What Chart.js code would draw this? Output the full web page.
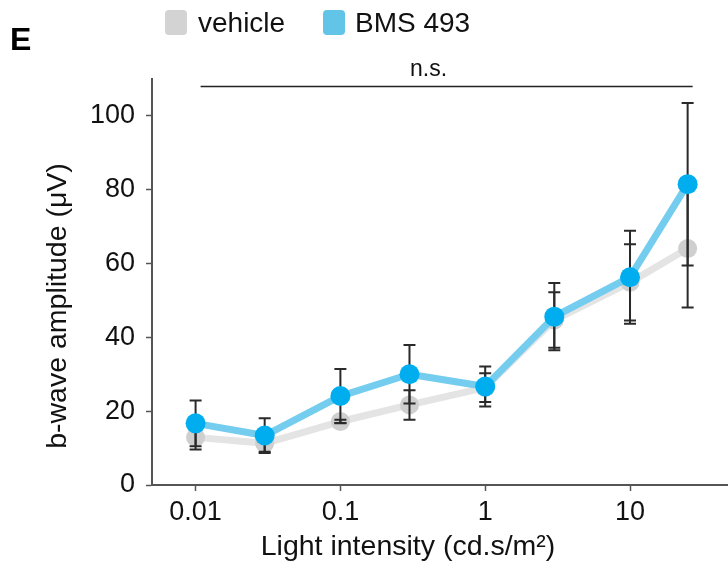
<!DOCTYPE html>
<html><head><meta charset="utf-8">
<script src="https://cdn.jsdelivr.net/npm/chart.js@4/dist/chart.umd.min.js"></script>
<style>html,body{margin:0;padding:0;background:#fff;overflow:hidden}#wrap{position:relative;width:728px;height:565px}</style>
</head><body><div id="wrap"><canvas id="c" width="728" height="565"></canvas></div>
<script>
const lightIntensity = [0.01, 0.03, 0.1, 0.3, 1, 3, 10, 25];
const vehicleMean = [12.9, 11.3, 17.2, 21.7, 26.4, 44.7, 54.9, 64.1];
const vehicleErr  = [3.3, 2.3, 0.5, 4.0, 3.9, 7.5, 10.3, 16.0];
const bmsMean = [16.7, 13.4, 24.1, 30.0, 26.7, 45.6, 56.3, 81.5];
const bmsErr  = [6.2, 4.7, 7.3, 7.9, 5.4, 9.1, 12.6, 22.0];
const xTicks = [0.01, 0.1, 1, 10];
const yTicks = [0, 20, 40, 60, 80, 100];
const seriesNames = ['vehicle', 'BMS 493'];
const panelLabel = 'E';
const sigLabel = 'n.s.';
const xTitle = 'Light intensity (cd.s/m\u00B2)';
const yTitle = 'b-wave amplitude (\u03BCV)';

const FONT = "'Liberation Sans', Arial, sans-serif";
Chart.defaults.font.family = FONT;
Chart.defaults.color = '#111';

const COL = {
  vehLine: '#e4e4e4', vehPt: '#cfcfcf', vehKey: '#d3d3d3',
  bmsLine: '#74cdee', bmsPt: '#00aeef', bmsKey: '#62c4e6',
  axis: '#555', err: '#2a2a2a'
};

function toPts(ys) { return ys.map((y, i) => ({ x: lightIntensity[i], y })); }

function drawErr(chart, dsIndex, errs) {
  const meta = chart.getDatasetMeta(dsIndex);
  const ys = chart.scales.y, ctx = chart.ctx;
  const data = chart.data.datasets[dsIndex].data;
  ctx.save();
  ctx.strokeStyle = COL.err; ctx.lineWidth = 2;
  meta.data.forEach((pt, i) => {
    const v = data[i].y;
    const yt = ys.getPixelForValue(v + errs[i]);
    const yb = ys.getPixelForValue(v - errs[i]);
    ctx.beginPath();
    ctx.moveTo(pt.x, yt); ctx.lineTo(pt.x, yb);
    ctx.moveTo(pt.x - 6, yt); ctx.lineTo(pt.x + 6, yt);
    ctx.moveTo(pt.x - 6, yb); ctx.lineTo(pt.x + 6, yb);
    ctx.stroke();
  });
  ctx.restore();
}

const decor = {
  id: 'decor',
  afterDatasetDraw(chart, args) {
    if (args.index === 1) { drawErr(chart, 1, vehicleErr); drawErr(chart, 0, bmsErr); }
  },
  afterDraw(chart) {
    const ctx = chart.ctx, xs = chart.scales.x, ys = chart.scales.y;
    ctx.save();
    // panel label
    ctx.fillStyle = '#000';
    ctx.font = 'bold 32px ' + FONT;
    ctx.textAlign = 'left'; ctx.textBaseline = 'alphabetic';
    ctx.fillText(panelLabel, 10, 50);
    // legend
    const keys = [[COL.vehKey, 165, 198], [COL.bmsKey, 323, 355]];
    ctx.font = '28px ' + FONT;
    keys.forEach((k, i) => {
      ctx.fillStyle = k[0];
      ctx.beginPath(); ctx.roundRect(k[1], 10, 22, 25, 4); ctx.fill();
      ctx.fillStyle = '#111';
      ctx.fillText(seriesNames[i], k[2], 32);
    });
    // significance bracket
    const x0 = xs.getPixelForValue(lightIntensity[0]) + 5;
    const x1 = xs.getPixelForValue(lightIntensity[lightIntensity.length - 1]) + 5;
    const yb = ys.getPixelForValue(108);
    ctx.strokeStyle = '#222'; ctx.lineWidth = 1.5;
    ctx.beginPath(); ctx.moveTo(x0, yb); ctx.lineTo(x1, yb); ctx.stroke();
    ctx.font = '23px ' + FONT; ctx.textAlign = 'center';
    ctx.fillText(sigLabel, (x0 + x1) / 2 - 18, yb - 10);
    // axis titles
    ctx.font = '28.5px ' + FONT;
    ctx.fillText(xTitle, 408, 555);
    ctx.translate(58, 306); ctx.rotate(-Math.PI / 2);
    ctx.textBaseline = 'middle';
    ctx.fillText(yTitle, 0, 0);
    ctx.restore();
  }
};

new Chart(document.getElementById('c'), {
  type: 'line',
  data: {
    datasets: [
      { label: seriesNames[1], data: toPts(bmsMean), borderColor: COL.bmsLine, borderWidth: 7,
        pointBackgroundColor: COL.bmsPt, pointBorderWidth: 0, pointRadius: 10, pointHoverRadius: 10,
        borderJoinStyle: 'round', borderCapStyle: 'round', tension: 0 },
      { label: seriesNames[0], data: toPts(vehicleMean), borderColor: COL.vehLine, borderWidth: 7,
        pointBackgroundColor: COL.vehPt, pointBorderWidth: 0, pointRadius: 9.5, pointHoverRadius: 9.5,
        borderJoinStyle: 'round', borderCapStyle: 'round', tension: 0 }
    ]
  },
  options: {
    responsive: false, animation: false,
    layout: { autoPadding: false, padding: { top: 79, left: 0, right: 0, bottom: 0 } },
    plugins: { legend: { display: false }, tooltip: { enabled: false } },
    scales: {
      x: {
        type: 'logarithmic', min: 0.005, max: 47.5,
        afterBuildTicks: s => { s.ticks = xTicks.map(v => ({ value: v })); },
        afterFit: s => { s.height = 80; s.paddingLeft = 0; s.paddingRight = 0; },
        ticks: { callback: v => String(v), autoSkip: false, maxRotation: 0, padding: 5,
                 color: '#111', font: { size: 27 } },
        grid: { display: true, drawOnChartArea: false, drawTicks: true, tickLength: 6,
                tickColor: COL.axis, tickWidth: 1.5 },
        border: { display: true, color: COL.axis, width: 2 }
      },
      y: {
        type: 'linear', min: 0, max: 110,
        afterBuildTicks: s => { s.ticks = yTicks.map(v => ({ value: v })); },
        afterFit: s => { s.width = 152; s.paddingTop = 0; s.paddingBottom = 0; },
        ticks: { padding: 11, color: '#111', font: { size: 27 } },
        grid: { display: true, drawOnChartArea: false, drawTicks: true, tickLength: 6,
                tickColor: COL.axis, tickWidth: 1.5 },
        border: { display: true, color: COL.axis, width: 2 }
      }
    }
  },
  plugins: [decor]
});
</script></body></html>
